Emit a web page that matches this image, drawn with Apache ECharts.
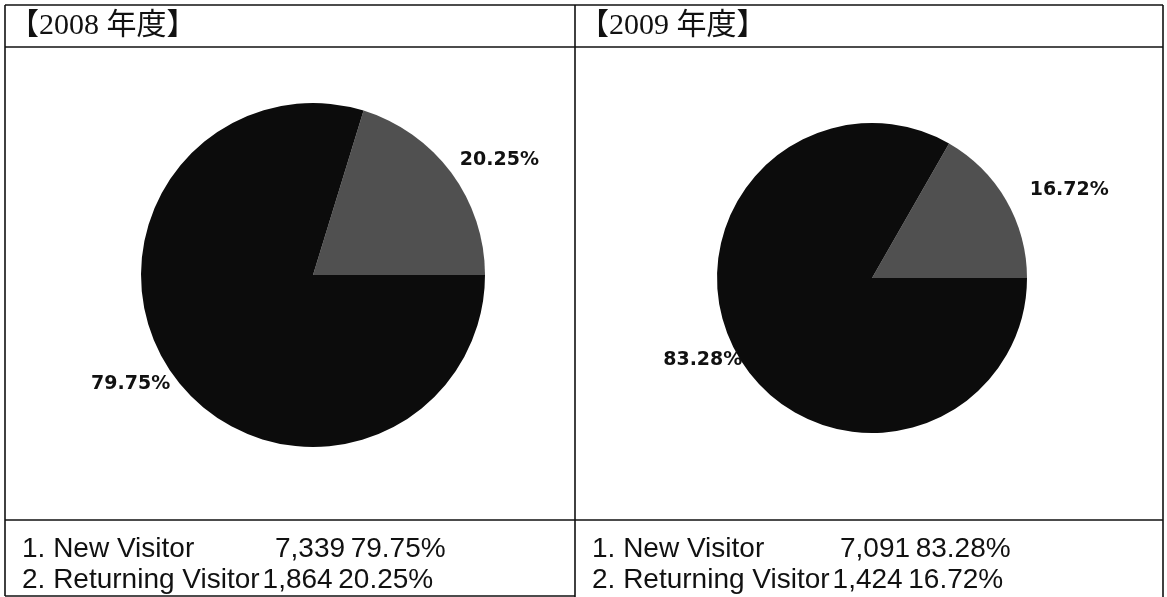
<!DOCTYPE html>
<html>
<head>
<meta charset="utf-8">
<script src="https://cdn.jsdelivr.net/npm/echarts@6/dist/echarts.min.js"></script>
<style>
  html, body { margin: 0; padding: 0; background: #fff; }
  #chart { width: 1167px; height: 597px; }
</style>
</head>
<body>
<div id="chart"></div>
<script>
// data
const years = ['2008', '2009']
const categories = ['New Visitor', 'Returning Visitor']
const visits2008 = [7339, 1864]
const visits2009 = [7091, 1424]
const percents2008 = [79.75, 20.25]
const percents2009 = [83.28, 16.72]

const panelX = [5, 575]
const panelCenters = [[313, 275], [872, 278]]
const panelRadius = [172, 155]
// small nudges so the labels sit where the original put them
const labelNudge = [
  [{ dx: -6, dy: -2 }, { dx: 10, dy: -4 }],
  [{ dx: 8, dy: -1 }, { dx: 20, dy: -5 }]
]

const chart = echarts.init(document.getElementById('chart'))

const fmt = n => n.toLocaleString('en-US')
const rowSize = 28
const rowFont = rowSize + 'px "Liberation Sans"'
const measure = (() => {
  const ctx = document.createElement('canvas').getContext('2d')
  return (txt, font) => { ctx.font = font; return ctx.measureText(txt).width }
})()

function pieSeries (idx, percents) {
  // returning visitor first so it runs anticlockwise from 3 o'clock
  return {
    type: 'pie',
    center: panelCenters[idx],
    radius: panelRadius[idx],
    startAngle: 0,
    clockwise: false,
    silent: true,
    animation: false,
    data: [
      { name: categories[1], value: percents[1], itemStyle: { color: '#505050' } },
      { name: categories[0], value: percents[0], itemStyle: { color: '#0c0c0c' } }
    ],
    label: {
      show: true,
      position: 'outside',
      formatter: p => p.value.toFixed(2) + '%',
      fontFamily: 'DejaVu Sans',
      fontWeight: 'bold',
      fontSize: 19,
      color: '#111',
      distanceToLabelLine: 0
    },
    labelLine: { show: false, length: 18, length2: 0 },
    labelLayout: p => labelNudge[idx][p.dataIndex]
  }
}

const line = (x1, y1, x2, y2) => ({
  type: 'line',
  shape: { x1, y1, x2, y2 },
  style: { stroke: '#111', lineWidth: 1.6 }
})

const graphics = [
  line(5, 5, 1163, 5),
  line(5, 47, 1163, 47),
  line(5, 520, 1163, 520),
  line(5, 596, 575, 596),
  line(5, 5, 5, 596),
  line(575, 5, 575, 597),
  line(1163, 5, 1163, 597)
]

const tables = [[visits2008, percents2008], [visits2009, percents2009]]

years.forEach((y, i) => {
  const x0 = panelX[i]
  graphics.push({
    type: 'text',
    left: x0 + 4, top: 11,
    style: { text: '【' + y + ' 年度】', fontFamily: 'Liberation Serif, Noto Sans CJK JP', fontSize: 30, fill: '#111' }
  })
  categories.forEach((c, k) => {
    const label = (k + 1) + '. ' + c
    const top = 535 + k * 31
    graphics.push({
      type: 'text',
      left: x0 + 17, top,
      style: { text: label, fontFamily: 'Liberation Sans', fontSize: rowSize, fill: '#111' }
    })
    // numbers start at a tab stop, or right after a label that runs past it
    const tab = x0 + (i === 0 ? 270 : 265)
    const after = x0 + 17 + measure(label, rowFont) + 3
    graphics.push({
      type: 'text',
      left: k === 0 ? tab : after, top,
      style: {
        text: fmt(tables[i][0][k]) + '\u2009' + tables[i][1][k].toFixed(2) + '%',
        fontFamily: 'Liberation Sans', fontSize: rowSize, fill: '#111'
      }
    })
  })
})

chart.setOption({
  backgroundColor: '#fff',
  animation: false,
  series: [pieSeries(0, percents2008), pieSeries(1, percents2009)],
  graphic: graphics
})
</script>
</body>
</html>
